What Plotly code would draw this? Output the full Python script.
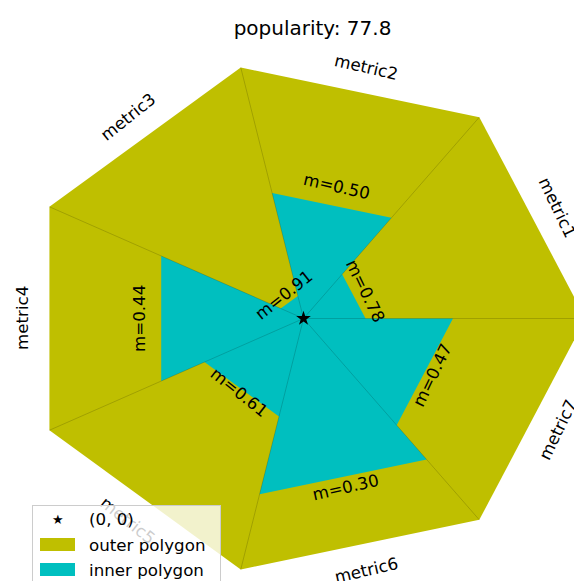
import numpy as np
import plotly.graph_objects as go

# ---- data -------------------------------------------------------------
metrics = ["metric1", "metric2", "metric3", "metric4", "metric5", "metric6", "metric7"]
m_values = [0.78, 0.50, 0.91, 0.44, 0.61, 0.30, 0.47]
popularity = 77.8
outer_radius = 1.0
legend_labels = ["(0, 0)", "outer polygon", "inner polygon"]

# ---- geometry ---------------------------------------------------------
n = len(metrics)
step = 2 * np.pi / n
edge_angles = np.arange(n + 1) * step          # sector boundaries
mid_angles = (np.arange(n) + 0.5) * step        # sector centres

FONT = "DejaVu Sans"
FS = 16.7
OLIVE = "#bfbf00"
CYAN = "#00bfbf"
W, H = 574, 581


def upright(deg):
    """Fold a text angle into (-90, 90] so labels stay readable."""
    return 90 - ((90 - deg) % 180)


# outer heptagon
ox = list(outer_radius * np.cos(edge_angles))
oy = list(outer_radius * np.sin(edge_angles))

# inner polygon: each sector triangle shrunk by (1 - m)
ix, iy = [], []
for i, m in enumerate(m_values):
    r = outer_radius * (1 - m)
    a0, a1 = edge_angles[i], edge_angles[i + 1]
    ix += [0, r * np.cos(a0), r * np.cos(a1), 0, None]
    iy += [0, r * np.sin(a0), r * np.sin(a1), 0, None]

# spokes from the centre to each outer vertex
sx, sy = [], []
for a in edge_angles[:-1]:
    sx += [0, outer_radius * np.cos(a), None]
    sy += [0, outer_radius * np.sin(a), None]

fig = go.Figure()
fig.add_trace(go.Scatter(
    x=ox, y=oy, mode="lines", fill="toself", fillcolor=OLIVE,
    line=dict(width=0, color="rgba(0,0,0,0)"),
    name=legend_labels[1], showlegend=False, hoverinfo="skip",
))
fig.add_trace(go.Scatter(
    x=ix, y=iy, mode="lines", fill="toself", fillcolor=CYAN,
    line=dict(width=0, color="rgba(0,0,0,0)"),
    name=legend_labels[2], showlegend=False, hoverinfo="skip",
))
fig.add_trace(go.Scatter(
    x=sx, y=sy, mode="lines", line=dict(width=1, color="rgba(0,0,0,0.16)"),
    showlegend=False, hoverinfo="skip",
))
fig.add_trace(go.Scatter(
    x=[0], y=[0], mode="markers",
    marker=dict(symbol="star", size=11, color="black"),
    name=legend_labels[0], showlegend=False,
))

annotations = []
# metric names around the rim
for name, a in zip(metrics, mid_angles):
    rot = upright(np.degrees(a) - 90)
    annotations.append(dict(
        x=outer_radius * np.cos(a), y=outer_radius * np.sin(a), xref="x", yref="y",
        text=name, showarrow=False, textangle=-rot,
        xanchor="center", yanchor="middle",
        font=dict(family=FONT, size=FS, color="black"),
    ))

# m labels sitting on the outer edge of each inner triangle
lift = 7
for m, a in zip(m_values, mid_angles):
    r = outer_radius * (1 - m)
    rot = upright(np.degrees(a) + 90)
    rr = np.radians(rot)
    annotations.append(dict(
        x=r * np.cos(a), y=r * np.sin(a), xref="x", yref="y",
        text=f"m={m:.2f}", showarrow=False, textangle=-rot,
        xanchor="center", yanchor="middle",
        xshift=-np.sin(rr) * lift, yshift=np.cos(rr) * lift,
        font=dict(family=FONT, size=FS, color="black"),
    ))

# legend box (translucent, drawn over the chart and the rim labels)
def px(x):
    return x / W


def py(y):
    return 1 - y / H


box_left, box_top, box_w, box_h = 32, 505, 187, 92
annotations.append(dict(
    x=px(box_left), y=py(box_top), xref="paper", yref="paper",
    xanchor="left", yanchor="top", text=" ", showarrow=False,
    width=box_w, height=box_h, borderpad=0,
    bgcolor="rgba(255,255,255,0.8)", bordercolor="#cccccc", borderwidth=1,
))
row_y = [519, 544.5, 569.5]
# star key
annotations.append(dict(
    x=px(57.5), y=py(row_y[0]), xref="paper", yref="paper",
    xanchor="center", yanchor="middle", text="★", showarrow=False,
    font=dict(family=FONT, size=13, color="black"),
))
# colour keys
for yc, col in zip(row_y[1:], [OLIVE, CYAN]):
    annotations.append(dict(
        x=px(40), y=py(yc), xref="paper", yref="paper",
        xanchor="left", yanchor="middle", text=" ", showarrow=False,
        width=35, height=13, borderpad=0, borderwidth=0, bgcolor=col,
    ))
for yc, lab in zip(row_y, legend_labels):
    annotations.append(dict(
        x=px(87), y=py(yc), xref="paper", yref="paper",
        xanchor="left", yanchor="middle", text=lab, showarrow=False,
        font=dict(family=FONT, size=FS, color="black"),
    ))

fig.update_layout(
    width=W, height=H,
    margin=dict(l=0, r=0, t=0, b=0, autoexpand=False),
    paper_bgcolor="white", plot_bgcolor="white",
    title=dict(
        text=f"popularity: {popularity}", x=312.5 / W, xanchor="center",
        y=1 - 27.5 / H, yanchor="middle", yref="container",
        font=dict(family=FONT, size=20, color="black"),
    ),
    xaxis=dict(range=[-303.5 / 282, (W - 303.5) / 282], visible=False, fixedrange=True),
    yaxis=dict(range=[-(H - 318.5) / 257.5, 318.5 / 257.5], visible=False, fixedrange=True),
    annotations=annotations,
    showlegend=False,
    font=dict(family=FONT),
)

fig.write_html("out.html")
